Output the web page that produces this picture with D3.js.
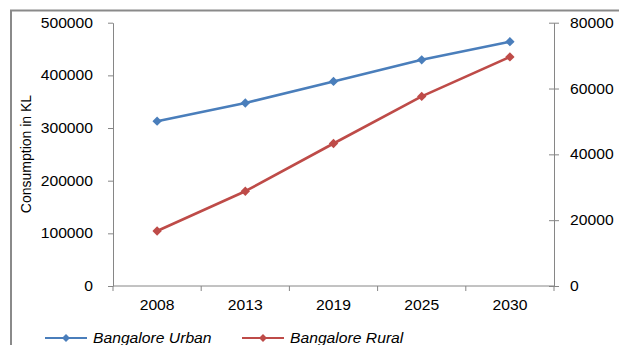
<!DOCTYPE html>
<html>
<head>
<meta charset="utf-8">
<script src="https://cdn.jsdelivr.net/npm/d3@7/dist/d3.min.js"></script>
<style>
  html, body { margin: 0; padding: 0; background: #fff; }
  svg { display: block; font-family: "Liberation Sans", Arial, sans-serif; }
</style>
</head>
<body>
<svg id="chart" width="619" height="345"></svg>
<script>
// Water consumption projections (KL) for Bangalore districts
const years = ["2008", "2013", "2019", "2025", "2030"];
const urbanValues = [313000, 347500, 388500, 429500, 464000];   // left axis
const ruralValues = [16700, 28800, 43300, 57600, 69600];        // right axis
const leftTicks = [0, 100000, 200000, 300000, 400000, 500000];
const rightTicks = [0, 20000, 40000, 60000, 80000];
const seriesNames = ["Bangalore Urban", "Bangalore Rural"];
const seriesColors = ["#4a7ebb", "#be4b48"];

const svg = d3.select("#chart");
const axisColor = "#868686";
const textStretch = 1.12;

const plot = { left: 113, right: 554, top: 22.7, bottom: 286 };

// outer chart frame (extends beyond the canvas edges)
svg.append("rect")
  .attr("x", 11).attr("y", 10.5)
  .attr("width", 700).attr("height", 400)
  .attr("fill", "none").attr("stroke", "#8a8a8a").attr("stroke-width", 2);

const x = d3.scaleBand().domain(years).range([plot.left, plot.right]).padding(0);
const yL = d3.scaleLinear().domain([0, 500000]).range([plot.bottom, plot.top]);
const yR = d3.scaleLinear().domain([0, 80000]).range([plot.bottom, plot.top]);

function styleAxis(g) {
  g.select(".domain").attr("stroke", axisColor).attr("stroke-width", 1);
  g.selectAll(".tick line").attr("stroke", axisColor);
  g.selectAll("text").attr("fill", "#000").attr("font-size", 14)
    .attr("font-family", "Liberation Sans, Arial, sans-serif");
}

// left value axis
svg.append("g")
  .attr("transform", `translate(${plot.left},0)`)
  .call(d3.axisLeft(yL).tickValues(leftTicks).tickFormat(d3.format("d"))
    .tickSizeInner(5).tickSizeOuter(0).tickPadding(15))
  .call(styleAxis);

// right value axis with crossing tick marks
const gR = svg.append("g")
  .attr("transform", `translate(${plot.right},0)`)
  .call(d3.axisRight(yR).tickValues(rightTicks).tickFormat(d3.format("d"))
    .tickSizeInner(5).tickSizeOuter(0).tickPadding(11))
  .call(styleAxis);
gR.selectAll(".tick line").attr("x1", -5).attr("x2", 5);

// category axis: labels centred, ticks on category boundaries
const gX = svg.append("g")
  .attr("transform", `translate(0,${plot.bottom})`)
  .call(d3.axisBottom(x).tickSize(0).tickPadding(14))
  .call(styleAxis);
gX.select(".domain").remove();
gX.append("line")
  .attr("x1", plot.left).attr("x2", plot.right)
  .attr("stroke", axisColor);
const edges = years.map(d => x(d)).concat([x.range()[1]]);
gX.selectAll(".edge")
  .data(edges)
  .enter().append("line")
  .attr("x1", d => d).attr("x2", d => d)
  .attr("y1", 0).attr("y2", 5)
  .attr("stroke", axisColor);

// y axis title
svg.append("text")
  .attr("transform", `translate(31,154) rotate(-90)`)
  .attr("text-anchor", "middle")
  .attr("font-size", 14)
  .attr("fill", "#000")
  .text("Consumption in KL");

const cx = d => x(d) + x.bandwidth() / 2;
const diamond = d3.symbol().type(d3.symbolDiamond2).size(56);

const series = [
  { name: seriesNames[0], values: urbanValues, y: yL, color: seriesColors[0] },
  { name: seriesNames[1], values: ruralValues, y: yR, color: seriesColors[1] }
];

series.forEach(s => {
  const line = d3.line().x((d, i) => cx(years[i])).y(d => s.y(d));
  svg.append("path")
    .datum(s.values)
    .attr("d", line)
    .attr("fill", "none")
    .attr("stroke", s.color)
    .attr("stroke-width", 2.6)
    .attr("stroke-linejoin", "round");
  svg.selectAll(null)
    .data(s.values)
    .enter().append("path")
    .attr("d", diamond)
    .attr("transform", (d, i) => `translate(${cx(years[i])},${s.y(d)})`)
    .attr("fill", s.color);
});

// legend
const legendX = [45, 242];
series.forEach((s, i) => {
  const g = svg.append("g").attr("transform", `translate(${legendX[i]},338)`);
  g.append("line").attr("x1", 0).attr("x2", 42).attr("y1", 0).attr("y2", 0)
    .attr("stroke", s.color).attr("stroke-width", 2.2);
  g.append("path").attr("d", d3.symbol().type(d3.symbolDiamond2).size(40))
    .attr("transform", "translate(21,0)").attr("fill", s.color);
  g.append("text").attr("class", "stretch")
    .attr("x", 48).attr("y", 4.5)
    .attr("font-size", 14).attr("font-style", "italic")
    .attr("fill", "#000")
    .text(s.name);
});

// widen horizontal labels slightly
svg.selectAll(".tick text, text.stretch").each(function () {
  const w = this.getComputedTextLength();
  d3.select(this).attr("textLength", w * textStretch).attr("lengthAdjust", "spacingAndGlyphs");
});
</script>
</body>
</html>
